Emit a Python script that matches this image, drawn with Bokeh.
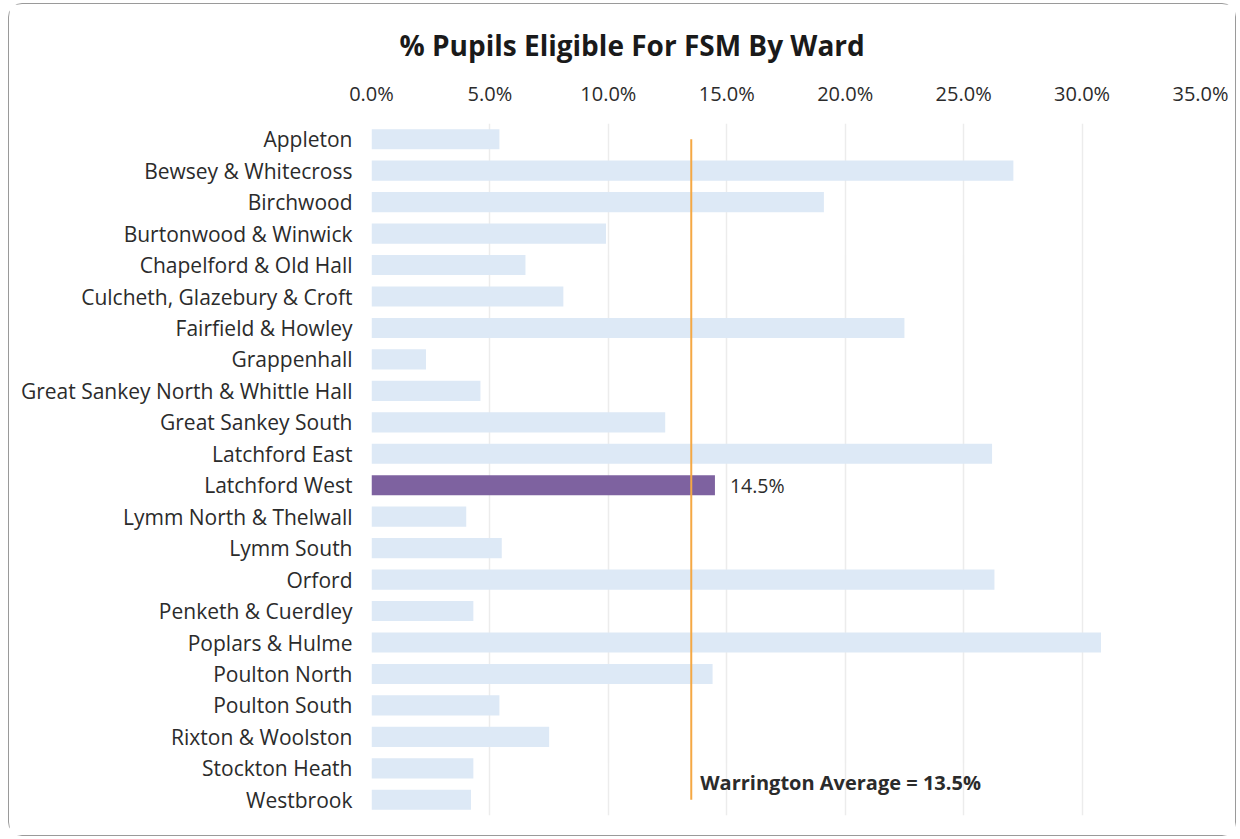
from bokeh.plotting import figure
from bokeh.models import FactorRange, ColumnDataSource, SingleIntervalTicker, CustomJSTickFormatter
from bokeh.core.properties import value
from bokeh.embed import file_html
from bokeh.resources import INLINE

wards = ["Appleton", "Bewsey & Whitecross", "Birchwood", "Burtonwood & Winwick",
         "Chapelford & Old Hall", "Culcheth, Glazebury & Croft", "Fairfield & Howley",
         "Grappenhall", "Great Sankey North & Whittle Hall", "Great Sankey South",
         "Latchford East", "Latchford West", "Lymm North & Thelwall", "Lymm South",
         "Orford", "Penketh & Cuerdley", "Poplars & Hulme", "Poulton North",
         "Poulton South", "Rixton & Woolston", "Stockton Heath", "Westbrook"]
fsm_pct = [5.4, 27.1, 19.1, 9.9, 6.5, 8.1, 22.5, 2.3, 4.6, 12.4, 26.2, 14.5,
           4.0, 5.5, 26.3, 4.3, 30.8, 14.4, 5.4, 7.5, 4.3, 4.2]
highlight = "Latchford West"
average = 13.5

FONT = "Open Sans"
TXT = "#2b2b2b"

colors = ["#7E62A0" if w == highlight else "#DDE9F6" for w in wards]
src = ColumnDataSource(dict(ward=wards, val=fsm_pct, color=colors))

p = figure(width=1228, height=833, output_backend="svg", toolbar_location=None,
           y_range=FactorRange(factors=list(reversed(wards))), x_range=(0, 35),
           x_axis_location="above", min_border_left=362, min_border_right=37,
           min_border_top=119, min_border_bottom=22)
p.styles = {"border": "1px solid #9a9a9a", "border-radius": "14px",
            "margin-left": "8px", "margin-top": "3px"}
p.outline_line_color = None

p.hbar(y="ward", right="val", left=0, height=0.64, fill_color="color",
       line_color=None, source=src)

p.segment(x0=[average], x1=[average], y0=[wards[0]], y1=[wards[-1]],
          line_color="#F5A844", line_width=2)

hl_idx = wards.index(highlight)
p.text(x=[fsm_pct[hl_idx]], y=[highlight], text=[f"{fsm_pct[hl_idx]:.1f}%"],
       x_offset=15, text_baseline="middle", text_font=value(FONT),
       text_font_size="19.5px", text_color=TXT)
p.text(x=[average], y=[wards[-1]], text=[f"Warrington Average = {average:.1f}%"],
       x_offset=9, y_offset=-17, text_baseline="middle", text_font=value(FONT),
       text_font_size="20px", text_font_style="bold", text_color=TXT)

p.title.text = "% Pupils Eligible For FSM By Ward"
p.title.align = "left"
p.title.offset = 28
p.title.standoff = 25
p.title.text_font = FONT
p.title.text_font_size = "28px"
p.title.text_font_style = "bold"
p.title.text_color = "#1a1a1a"

xa = p.xaxis[0]
xa.ticker = SingleIntervalTicker(interval=5)
xa.formatter = CustomJSTickFormatter(code="return tick.toFixed(1) + '%';")
xa.axis_line_color = None
xa.major_tick_line_color = None
xa.minor_tick_line_color = None
xa.major_label_text_font = FONT
xa.major_label_text_font_size = "20px"
xa.major_label_text_color = TXT
xa.major_label_standoff = 11

ya = p.yaxis[0]
ya.axis_line_color = None
ya.major_tick_line_color = None
ya.major_label_text_font = FONT
ya.major_label_text_font_size = "21px"
ya.major_label_text_color = TXT
ya.major_label_standoff = 13

p.xgrid.ticker = SingleIntervalTicker(interval=5)
p.xgrid.grid_line_color = "#ECECEC"
p.xgrid.grid_line_width = 1.5
p.ygrid.grid_line_color = None

open("out.html", "w").write(file_html(p, INLINE))
